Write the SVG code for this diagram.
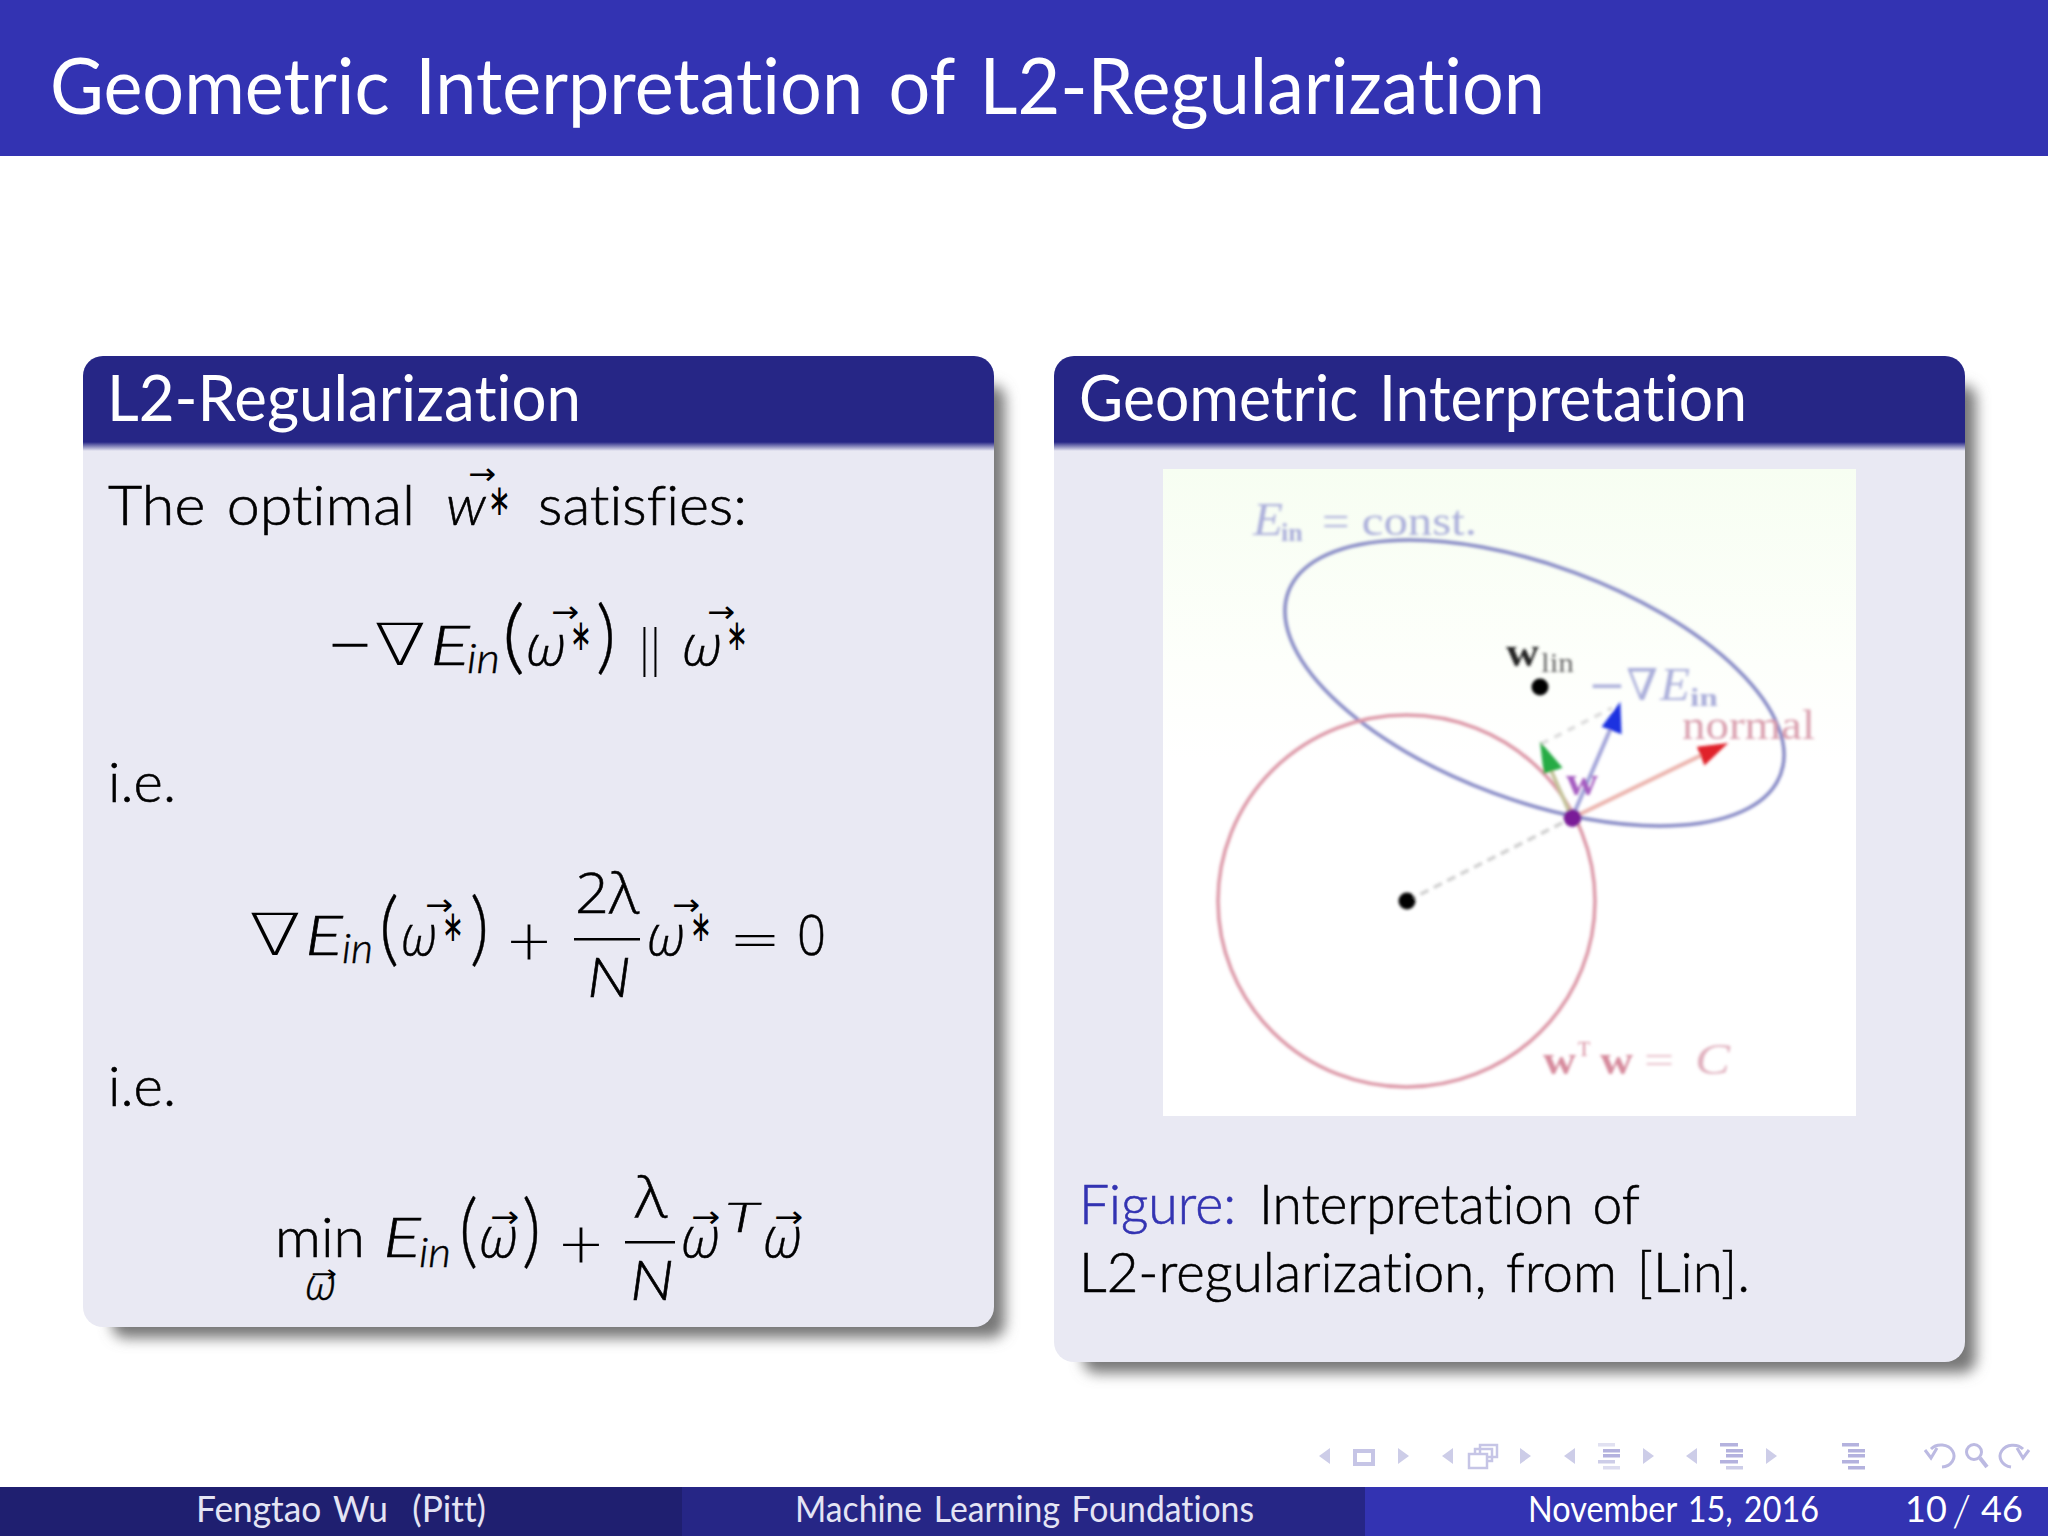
<svg xmlns="http://www.w3.org/2000/svg" width="2048" height="1536" viewBox="0 0 2048 1536">
<style>
text{font-family:"Lato","Open Sans","Liberation Sans",sans-serif;fill:#000;white-space:pre;font-variant-ligatures:none;font-weight:300;word-spacing:.09em}
.h{fill:#fff;font-size:64px;font-weight:400}
.t{font-size:56px;stroke:#000;stroke-width:.6}
.m{font-size:56px;font-style:italic;stroke:#000;stroke-width:.6}
.g{font-family:"Open Sans","Liberation Sans",sans-serif;font-size:58px;font-style:italic;font-weight:300;stroke:#000;stroke-width:.4}
.u{font-family:"Open Sans","Liberation Sans",sans-serif;font-size:56px;stroke:#000;stroke-width:.5}
.s{font-size:42px;font-style:italic;stroke:#000;stroke-width:.5}
.a{font-family:"DejaVu Sans",sans-serif;font-size:30px;font-weight:400}
.st{font-family:"DejaVu Sans",sans-serif;font-size:44px;font-weight:400}
.o{font-family:"DejaVu Sans",sans-serif;font-weight:200}
.p{font-size:80px;font-weight:300;stroke:#000;stroke-width:.4}
.f{fill:#e4e4f4;font-size:36px;font-weight:400}
.r{font-family:"Liberation Serif",serif;font-weight:400;word-spacing:0}
.nl{fill:#cdcde8}.nd{fill:#b4b2de}
.nb{fill:none;stroke:#c6c5e6;stroke-width:4}
</style>
<defs>
<filter id="sh" x="-5%" y="-5%" width="110%" height="110%"><feGaussianBlur stdDeviation="7"/></filter>
<filter id="bl" x="-5%" y="-5%" width="110%" height="110%"><feGaussianBlur stdDeviation="1.5"/></filter>
<linearGradient id="hg" x1="0" y1="0" x2="0" y2="1"><stop offset="0" stop-color="#262686"/><stop offset="1" stop-color="#e9e9f3"/></linearGradient>
<linearGradient id="bg" x1="0" y1="0" x2="0" y2="1"><stop offset="0" stop-color="#f7fef2"/><stop offset="0.3" stop-color="#fdfffb"/><stop offset="0.45" stop-color="#fff"/></linearGradient>
<clipPath id="lc"><rect x="83" y="356" width="911" height="971" rx="20"/></clipPath>
<clipPath id="rc"><rect x="1054" y="356" width="911" height="1006" rx="20"/></clipPath>
<path id="tl" d="M0 8 11 0V16Z"/>
<path id="tr" d="M11 8 0 0V16Z"/>
</defs>
<rect width="2048" height="1536" fill="#fff"/>
<g id="titlebar">
<rect width="2048" height="156" fill="#3333b2"/>
<text x="50" y="114" style="fill:#fff;font-size:78px;font-weight:400" textLength="1495" lengthAdjust="spacingAndGlyphs">Geometric Interpretation of L2-Regularization</text>
</g>
<g id="block-left">
<rect x="112" y="385" width="893" height="953" rx="14" fill="#777" filter="url(#sh)"/>
<g clip-path="url(#lc)">
<rect x="83" y="356" width="911" height="971" fill="#e9e9f3"/>
<rect x="83" y="356" width="911" height="86" fill="#262686"/>
<rect x="83" y="442" width="911" height="9" fill="url(#hg)"/>
</g>
<text class="h" x="107" y="421" textLength="474" lengthAdjust="spacingAndGlyphs">L2-Regularization</text>
<text class="t" x="108" y="525" textLength="307" lengthAdjust="spacingAndGlyphs">The optimal</text>
<text class="m" x="446" y="525" textLength="40" lengthAdjust="spacingAndGlyphs">w</text>
<text class="a" x="468" y="484" textLength="28" lengthAdjust="spacingAndGlyphs">→</text>
<text class="st" x="488" y="515" textLength="23" lengthAdjust="spacingAndGlyphs">∗</text>
<text class="t" x="538" y="525" textLength="209" lengthAdjust="spacingAndGlyphs">satisfies:</text>
<text class="u" x="329" y="665" textLength="42" lengthAdjust="spacingAndGlyphs">−</text>
<text class="o" x="374" y="665" style="font-size:58px" textLength="52" lengthAdjust="spacingAndGlyphs">∇</text>
<text class="m" x="430" y="665" textLength="40" lengthAdjust="spacingAndGlyphs">E</text>
<text class="s" x="467" y="673" textLength="33" lengthAdjust="spacingAndGlyphs">in</text>
<text class="p" x="502" y="664" textLength="23" lengthAdjust="spacingAndGlyphs">(</text>
<text class="g" x="526" y="665" textLength="40" lengthAdjust="spacingAndGlyphs">ω</text>
<text class="a" x="551" y="622" textLength="28" lengthAdjust="spacingAndGlyphs">→</text>
<text class="st" x="570" y="650" textLength="22" lengthAdjust="spacingAndGlyphs">∗</text>
<text class="p" x="596" y="664" textLength="20" lengthAdjust="spacingAndGlyphs">)</text>
<text x="638" y="668" style="font-size:54px" textLength="24" lengthAdjust="spacing">||</text>
<text class="g" x="682" y="665" textLength="40" lengthAdjust="spacingAndGlyphs">ω</text>
<text class="a" x="707" y="622" textLength="28" lengthAdjust="spacingAndGlyphs">→</text>
<text class="st" x="726" y="650" textLength="22" lengthAdjust="spacingAndGlyphs">∗</text>
<text class="t" x="108" y="802" textLength="68" lengthAdjust="spacingAndGlyphs">i.e.</text>
<text class="o" x="249" y="955" style="font-size:58px" textLength="52" lengthAdjust="spacingAndGlyphs">∇</text>
<text class="m" x="305" y="955" textLength="38" lengthAdjust="spacingAndGlyphs">E</text>
<text class="s" x="342" y="963" textLength="31" lengthAdjust="spacingAndGlyphs">in</text>
<text class="p" x="379" y="956" textLength="20" lengthAdjust="spacingAndGlyphs">(</text>
<text class="g" x="401" y="955" textLength="36" lengthAdjust="spacingAndGlyphs">ω</text>
<text class="a" x="425" y="915" textLength="28" lengthAdjust="spacingAndGlyphs">→</text>
<text class="st" x="442" y="941" textLength="22" lengthAdjust="spacingAndGlyphs">∗</text>
<text class="p" x="470" y="956" textLength="19" lengthAdjust="spacingAndGlyphs">)</text>
<text class="o" x="505" y="959" style="font-size:56px" textLength="48" lengthAdjust="spacingAndGlyphs">+</text>
<text class="u" x="575" y="913" textLength="64" lengthAdjust="spacingAndGlyphs">2λ</text>
<rect x="574" y="938" width="66" height="2.5"/>
<text class="m" x="587" y="997" textLength="44" lengthAdjust="spacingAndGlyphs">N</text>
<text class="g" x="647" y="955" textLength="38" lengthAdjust="spacingAndGlyphs">ω</text>
<text class="a" x="672" y="915" textLength="28" lengthAdjust="spacingAndGlyphs">→</text>
<text class="st" x="690" y="941" textLength="22" lengthAdjust="spacingAndGlyphs">∗</text>
<text class="o" x="729" y="958" style="font-size:56px" textLength="52" lengthAdjust="spacingAndGlyphs">=</text>
<text class="u" x="797" y="955" textLength="29" lengthAdjust="spacingAndGlyphs">0</text>
<text class="t" x="108" y="1106" textLength="68" lengthAdjust="spacingAndGlyphs">i.e.</text>
<text class="t" x="275" y="1257" textLength="90" lengthAdjust="spacingAndGlyphs">min</text>
<text class="g" x="305" y="1300" style="font-size:44px" textLength="31" lengthAdjust="spacingAndGlyphs">ω</text>
<text class="a" x="311" y="1282" style="font-size:24px" textLength="26" lengthAdjust="spacingAndGlyphs">→</text>
<text class="m" x="383" y="1257" textLength="38" lengthAdjust="spacingAndGlyphs">E</text>
<text class="s" x="419" y="1267" textLength="32" lengthAdjust="spacingAndGlyphs">in</text>
<text class="p" x="459" y="1258" textLength="19" lengthAdjust="spacingAndGlyphs">(</text>
<text class="g" x="479" y="1257" textLength="39" lengthAdjust="spacingAndGlyphs">ω</text>
<text class="a" x="490" y="1227" textLength="29" lengthAdjust="spacingAndGlyphs">→</text>
<text class="p" x="522" y="1258" textLength="19" lengthAdjust="spacingAndGlyphs">)</text>
<text class="o" x="557" y="1262" style="font-size:56px" textLength="48" lengthAdjust="spacingAndGlyphs">+</text>
<text class="u" x="635" y="1217" textLength="32" lengthAdjust="spacingAndGlyphs">λ</text>
<rect x="625" y="1241" width="50" height="2.5"/>
<text class="m" x="630" y="1300" textLength="44" lengthAdjust="spacingAndGlyphs">N</text>
<text class="g" x="681" y="1257" textLength="39" lengthAdjust="spacingAndGlyphs">ω</text>
<text class="a" x="691" y="1227" textLength="29" lengthAdjust="spacingAndGlyphs">→</text>
<text class="s" x="725" y="1232" textLength="34" lengthAdjust="spacingAndGlyphs">T</text>
<text class="g" x="763" y="1257" textLength="39" lengthAdjust="spacingAndGlyphs">ω</text>
<text class="a" x="774" y="1227" textLength="29" lengthAdjust="spacingAndGlyphs">→</text>
</g>
<g id="block-right">
<rect x="1083" y="385" width="893" height="988" rx="14" fill="#777" filter="url(#sh)"/>
<g clip-path="url(#rc)">
<rect x="1054" y="356" width="911" height="1006" fill="#e9e9f3"/>
<rect x="1054" y="356" width="911" height="86" fill="#262686"/>
<rect x="1054" y="442" width="911" height="9" fill="url(#hg)"/>
</g>
<text class="h" x="1079" y="421" textLength="668" lengthAdjust="spacingAndGlyphs">Geometric Interpretation</text>
<text class="t" x="1079" y="1224" style="fill:#3333b2;stroke:#3333b2" textLength="157" lengthAdjust="spacingAndGlyphs">Figure:</text>
<text class="t" x="1259" y="1224" textLength="381" lengthAdjust="spacingAndGlyphs">Interpretation of</text>
<text class="t" x="1079" y="1292" textLength="671" lengthAdjust="spacingAndGlyphs">L2-regularization, from [Lin].</text>
</g>
<g id="figure">
<rect x="1163" y="469" width="693" height="647" fill="url(#bg)"/>
<g filter="url(#bl)">
<ellipse cx="1534.5" cy="683" rx="262.5" ry="117.5" transform="rotate(20.3 1534.5 683)" fill="none" stroke="#8487c4" stroke-width="3.5"/>
<ellipse cx="1406.5" cy="901" rx="188.5" ry="186" fill="none" stroke="#dc96a6" stroke-width="3.5"/>
<g id="connectors">
<path d="M1407 901 1572 818" stroke="#cfcfcf" stroke-width="3.5" stroke-dasharray="9 6" fill="none"/>
<path d="M1541 744 1612 708" stroke="#dcdcdc" stroke-width="3.5" stroke-dasharray="8 7" fill="none"/>
<path d="M1572 818 1550 768" stroke="#c4c39a" stroke-width="4" fill="none"/>
<path d="M1572 818 1610 730" stroke="#a0a2d8" stroke-width="4" fill="none"/>
<path d="M1572 818 1708 752" stroke="#ebb2ac" stroke-width="4" fill="none"/>
<path d="M1542 746 1560 767 1545 772Z" fill="#27ab45" stroke="#27ab45" stroke-width="3"/>
<path d="M1619 706 1620 732 1604 726Z" fill="#1a30e0" stroke="#1a30e0" stroke-width="3"/>
<path d="M1724 745 1705 763 1699 748Z" fill="#e0202a" stroke="#e0202a" stroke-width="3"/>
</g>
<circle cx="1572.5" cy="818" r="9" fill="#7a1a98"/>
<circle cx="1540" cy="687" r="8.5" fill="#000"/>
<circle cx="1407" cy="901" r="8.5" fill="#000"/>
<text class="r" x="1253" y="535" style="font-size:46px;font-style:italic;fill:#aaaeda" textLength="30" lengthAdjust="spacingAndGlyphs">E</text>
<text class="r" x="1281" y="541" style="font-size:26px;font-weight:700;fill:#aaaeda">in</text>
<text class="r" x="1322" y="535" style="font-size:42px;fill:#aaaeda" textLength="155" lengthAdjust="spacingAndGlyphs">= const.</text>
<text class="r" x="1506" y="666" style="font-size:40px;font-weight:700;fill:#222" textLength="33" lengthAdjust="spacingAndGlyphs">w</text>
<text class="r" x="1541" y="672" style="font-size:28px;fill:#666" textLength="33" lengthAdjust="spacingAndGlyphs">lin</text>
<text class="r" x="1588" y="700" style="font-family:'DejaVu Serif',serif;font-size:44px;fill:#aaaeda" textLength="70" lengthAdjust="spacingAndGlyphs">−∇</text>
<text class="r" x="1660" y="700" style="font-size:46px;font-style:italic;fill:#aaaeda" textLength="30" lengthAdjust="spacingAndGlyphs">E</text>
<text class="r" x="1690" y="706" style="font-size:26px;font-weight:700;fill:#aaaeda" textLength="28" lengthAdjust="spacingAndGlyphs">in</text>
<text class="r" x="1682" y="739" style="font-size:42px;fill:#d99ead" textLength="133" lengthAdjust="spacingAndGlyphs">normal</text>
<text class="r" x="1566" y="795" style="font-size:40px;font-weight:700;fill:#a55cc0" textLength="32" lengthAdjust="spacingAndGlyphs">w</text>
<text class="r" x="1543" y="1074" style="font-size:40px;font-weight:700;fill:#d68a9c" textLength="33" lengthAdjust="spacingAndGlyphs">w</text>
<text class="r" x="1578" y="1056" style="font-size:20px;fill:#d68a9c">T</text>
<text class="r" x="1600" y="1074" style="font-size:40px;font-weight:700;fill:#d68a9c" textLength="33" lengthAdjust="spacingAndGlyphs">w</text>
<text class="r" x="1644" y="1074" style="font-size:40px;fill:#e8c0cb" textLength="30" lengthAdjust="spacingAndGlyphs">=</text>
<text class="r" x="1695" y="1074" style="font-size:44px;font-style:italic;fill:#e0b0be" textLength="35" lengthAdjust="spacingAndGlyphs">C</text>
</g>
</g>
<g id="navigation">
<use href="#tl" class="nl" x="1319" y="1448"/>
<rect class="nb" x="1355" y="1451" width="18" height="13"/>
<use href="#tr" class="nl" x="1398" y="1448"/>
<use href="#tl" class="nl" x="1442" y="1448"/>
<g class="nb" style="stroke-width:2.5"><rect x="1480" y="1445" width="17" height="12"/><rect x="1475" y="1449" width="17" height="12"/><rect x="1469" y="1454" width="18" height="14" fill="#fff"/></g>
<use href="#tr" class="nl" x="1520" y="1448"/>
<use href="#tl" class="nl" x="1564" y="1448"/>
<g class="nl"><rect x="1598" y="1443" width="17" height="3.5" opacity=".6"/><rect x="1603" y="1449" width="17" height="3.5" fill="#b4b2de"/><rect x="1603" y="1454" width="17" height="3.5" fill="#b4b2de"/><rect x="1598" y="1460" width="17" height="3.5"/><rect x="1603" y="1466" width="17" height="3.5" opacity=".7"/></g>
<use href="#tr" class="nl" x="1643" y="1448"/>
<use href="#tl" class="nl" x="1686" y="1448"/>
<g class="nd"><rect x="1720" y="1443" width="18" height="3.5"/><rect x="1726" y="1449" width="17" height="3.5"/><rect x="1726" y="1454" width="17" height="3.5"/><rect x="1720" y="1460" width="18" height="3.5"/><rect x="1726" y="1466" width="17" height="3.5" class="nl"/></g>
<use href="#tr" class="nl" x="1766" y="1448"/>
<g class="nd"><rect x="1842" y="1443" width="17" height="3.5"/><rect x="1848" y="1449" width="17" height="3.5"/><rect x="1848" y="1454" width="17" height="3.5"/><rect x="1842" y="1460" width="17" height="3.5"/><rect x="1848" y="1466" width="17" height="3.5"/></g>
<g fill="none" stroke="#bcbae2" stroke-width="3">
<path d="M1931 1449A13 11 0 1 1 1942 1467"/><path d="M1925 1450 1931 1458 1937 1448"/>
<circle cx="1974" cy="1452" r="7.5"/><path d="M1980 1458 1987 1467" stroke-width="4"/>
<path d="M2023 1449A13 11 0 1 0 2011 1467"/><path d="M2029 1450 2023 1458 2017 1448"/>
</g>
</g>
<g id="footer">
<rect y="1487" width="682" height="49" fill="#1f1f70"/>
<rect x="682" y="1487" width="683" height="49" fill="#262686"/>
<rect x="1365" y="1487" width="683" height="49" fill="#3333b2"/>
<text class="f" x="196" y="1522" textLength="290" lengthAdjust="spacingAndGlyphs">Fengtao Wu  (Pitt)</text>
<text class="f" x="795" y="1522" textLength="459" lengthAdjust="spacingAndGlyphs">Machine Learning Foundations</text>
<text class="f" x="1528" y="1522" style="fill:#fff" textLength="291" lengthAdjust="spacingAndGlyphs">November 15, 2016</text>
<text class="f" x="1905" y="1522" style="fill:#fff">10</text>
<text class="f" x="1952" y="1526" style="fill:#fff;font-size:44px;font-weight:300">/</text>
<text class="f" x="1981" y="1522" style="fill:#fff">46</text>
</g>
</svg>
